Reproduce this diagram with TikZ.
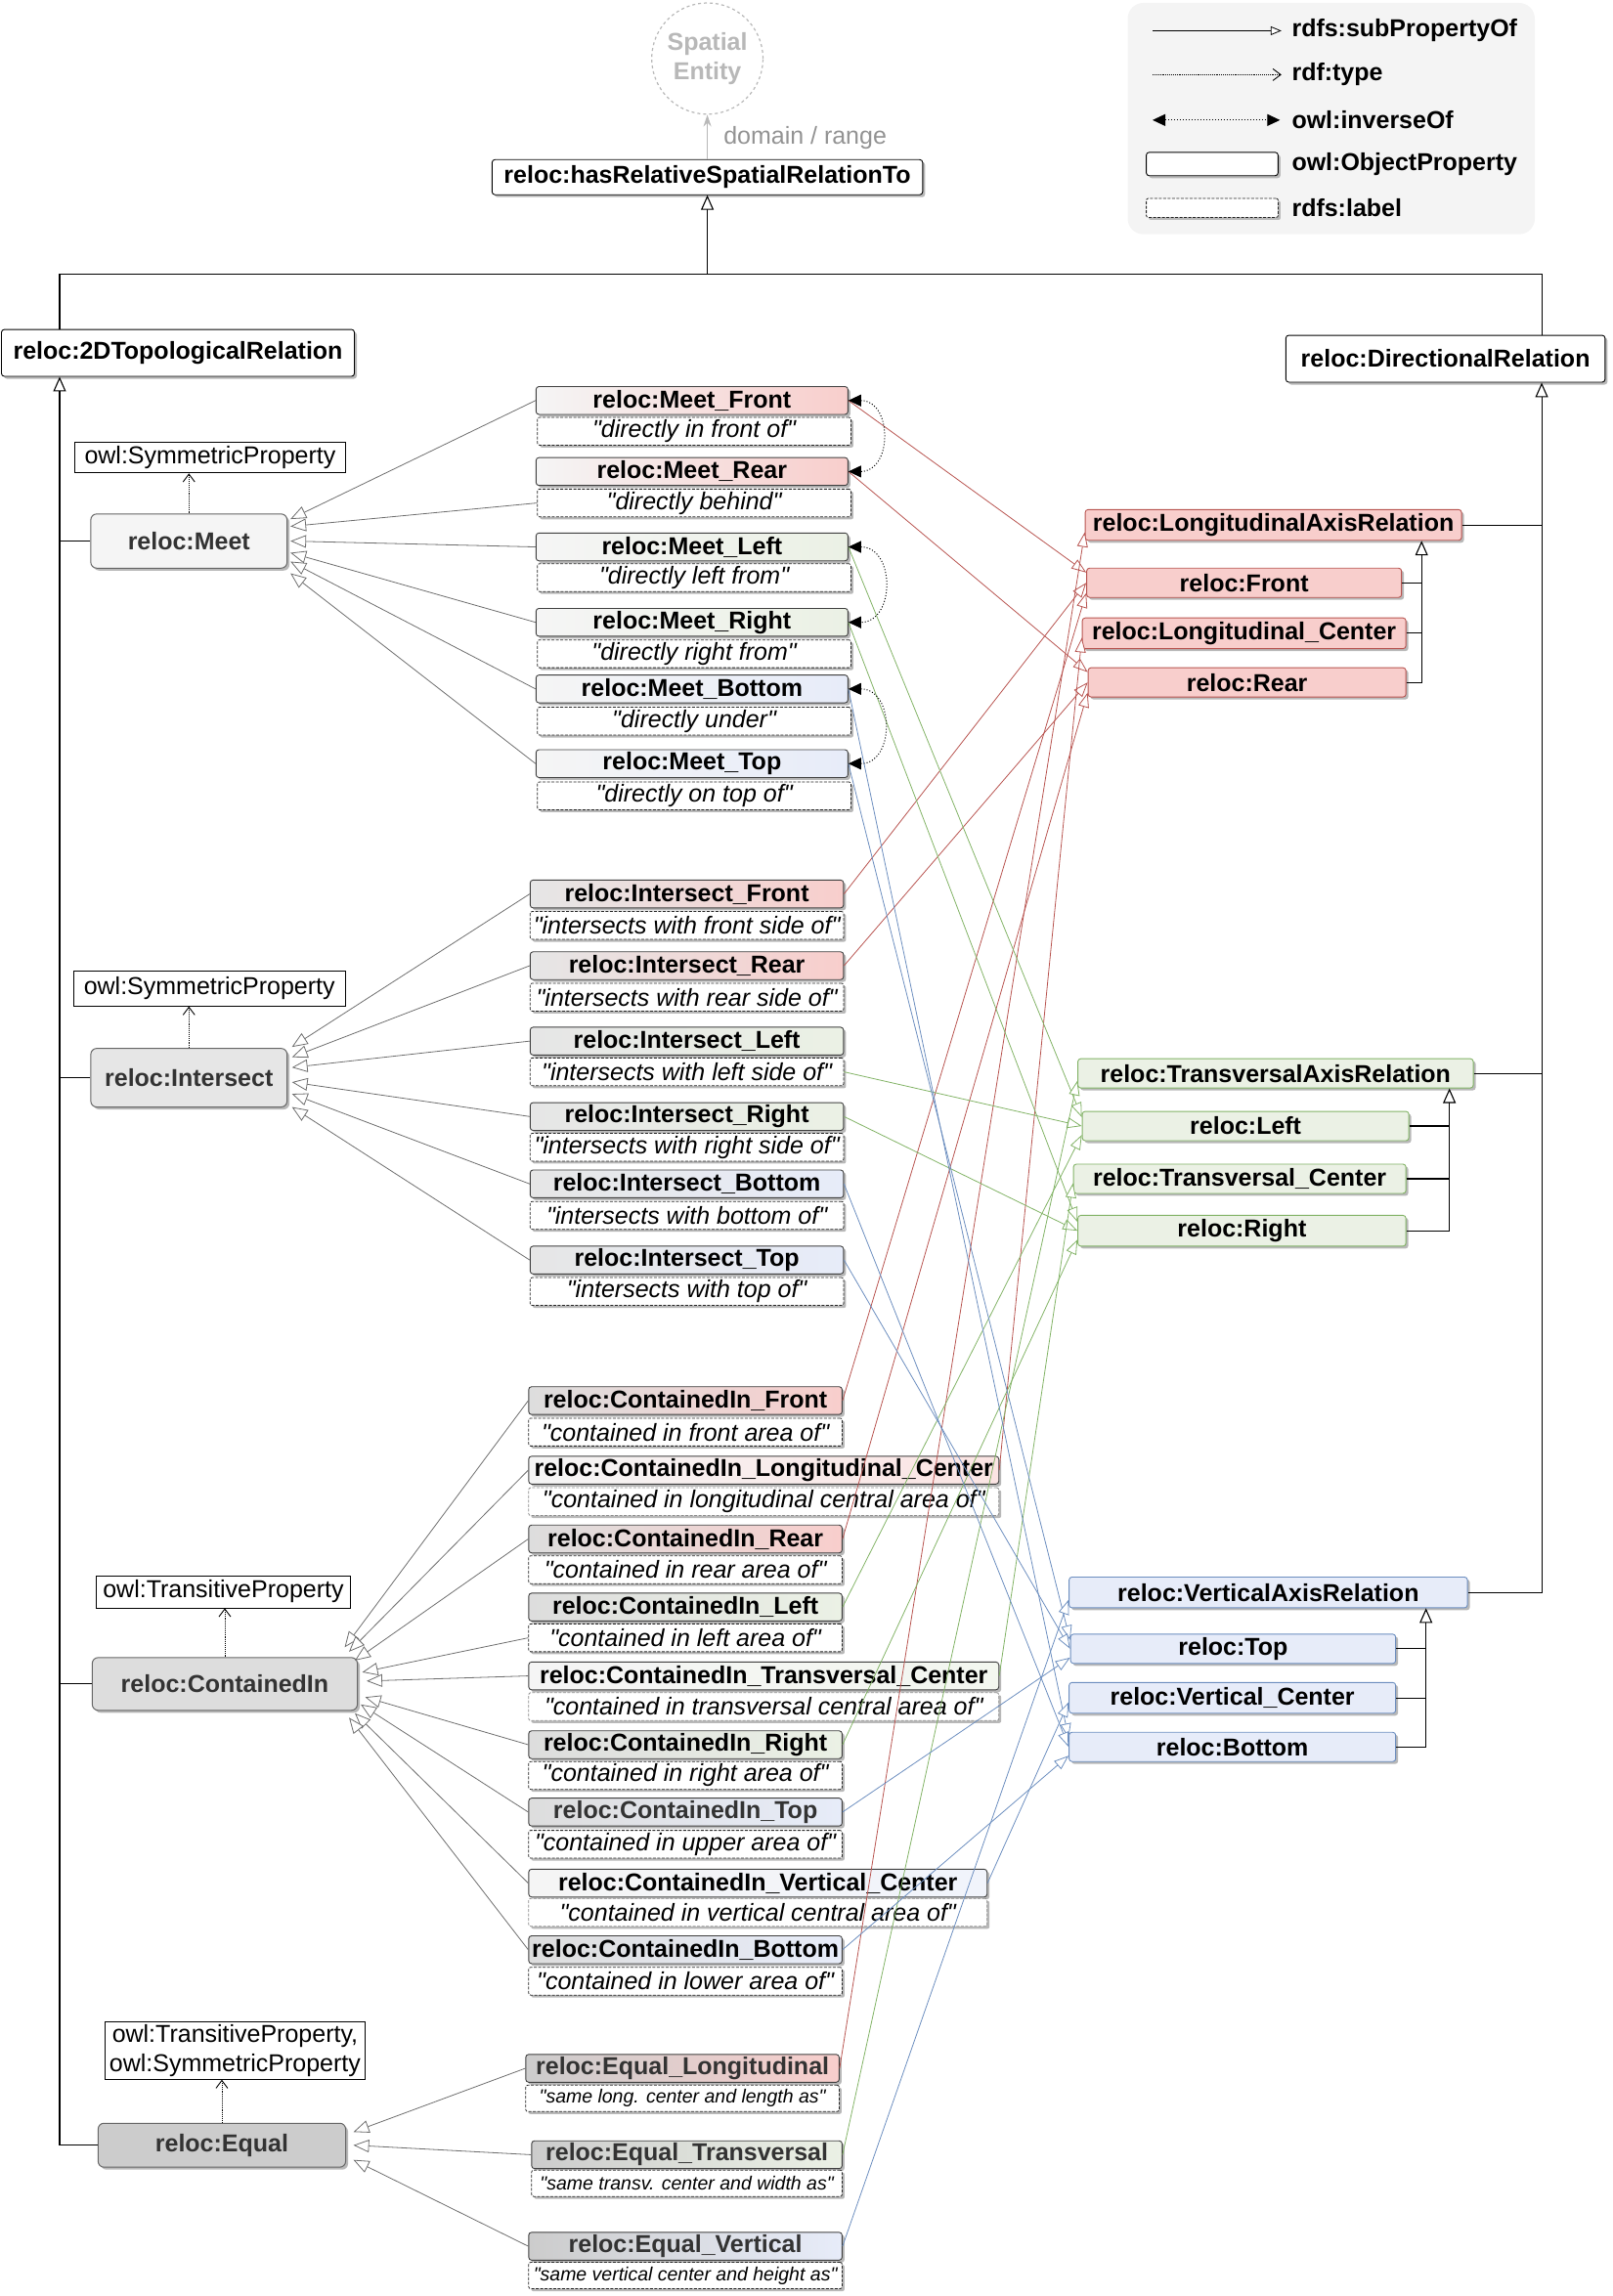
\documentclass[tikz,border=0pt]{standalone}
\usepackage{fontspec}
\setmainfont{Liberation Sans}
\usepackage{tikz}
\usetikzlibrary{positioning,calc,arrows.meta,shadows}
\definecolor{relocRed}{HTML}{F8CECC}
\definecolor{relocRedLine}{HTML}{B85450}
\definecolor{relocGreen}{HTML}{EBF1E5}
\definecolor{relocGreenLine}{HTML}{82B366}
\definecolor{relocBlue}{HTML}{E7ECF9}
\definecolor{relocBlueLine}{HTML}{6C8EBF}
\definecolor{relocInk}{HTML}{333333}
\definecolor{relocEdge}{HTML}{6E6E6E}
\definecolor{relocMuted}{HTML}{B8B8B8}
\definecolor{relocKey}{HTML}{F4F4F4}
\definecolor{relocMeet}{HTML}{F5F5F5}
\definecolor{relocInt}{HTML}{E6E6E6}
\definecolor{relocCon}{HTML}{DDDDDD}
\definecolor{relocEq}{HTML}{CCCCCC}
\newcommand\relocname{\fontsize{25}{30}\selectfont\bfseries}
\newcommand\reloclabel{\fontsize{25}{30}\selectfont\itshape}
\newcommand\reloclabelsm{\fontsize{19.5}{24}\selectfont\itshape}
\newcommand\reloctype{\fontsize{25}{30}\selectfont}
\newcommand\qq[1]{\textquotedbl#1\textquotedbl}

\begin{document}
\begin{tikzpicture}[x=1.49864pt, y=-1.49864pt,
  boxw/.style={minimum width=#1*1.49864pt},
  boxh/.style={minimum height=#1*1.49864pt},
  softshadow/.style={drop shadow={shadow xshift=2.5pt, shadow yshift=-2.5pt, fill=black!28, opacity=1}},
  relbox/.style={draw=black, fill=white, rounded corners=3pt, line width=0.9pt, font=\relocname, inner sep=0pt, softshadow},
  parentbox/.style={draw=black!60, rounded corners=6pt, line width=1pt, font=\relocname, text=relocInk, inner sep=0pt, softshadow},
  typebox/.style={draw=black, line width=0.8pt, font=\reloctype, inner sep=0pt, align=center},
  spatial/.style={circle, draw=relocMuted, dashed, line width=1.2pt, fill=white, minimum size=76*1.49864pt, font=\relocname, text=relocMuted, align=center, inner sep=0pt},
  propbox/.style={draw=black!75, rounded corners=3pt, line width=0.9pt, font=\relocname, inner sep=0pt, boxh=19, softshadow},
  meetprop/.style={propbox, boxw=213, left color=relocMeet},
  intprop/.style={propbox, boxw=214, left color=relocInt},
  conprop/.style={propbox, boxw=214, left color=relocCon},
  eqprop/.style={propbox, boxw=214, left color=relocEq, text=relocInk},
  lblbox/.style={draw=black!85, dash pattern=on 3pt off 1.5pt, line width=0.8pt, rounded corners=2pt, fill=white, font=\reloclabel, inner sep=0pt, boxh=19, boxw=214, softshadow},
  axisbox/.style={rounded corners=3pt, line width=0.9pt, font=\relocname, inner sep=0pt, boxh=20, softshadow},
  redaxis/.style={axisbox, draw=relocRedLine, fill=relocRed},
  greenaxis/.style={axisbox, draw=relocGreenLine, fill=relocGreen},
  blueaxis/.style={axisbox, draw=relocBlueLine, fill=relocBlue},
  keytext/.style={font=\relocname, anchor=west, inner sep=0pt},
  isa/.style={draw=relocEdge, line width=0.8pt, -{Triangle[fill=white, length=16pt, width=13pt]}},
  subred/.style={draw=relocRedLine, line width=0.8pt, -{Triangle[fill=white, length=15pt, width=11pt]}},
  subgreen/.style={draw=relocGreenLine, line width=0.8pt, -{Triangle[fill=white, length=15pt, width=11pt]}},
  subblue/.style={draw=relocBlueLine, line width=0.8pt, -{Triangle[fill=white, length=15pt, width=11pt]}},
  tree/.style={line width=1.1pt, -{Triangle[fill=white, length=15pt, width=13pt]}},
  treeline/.style={line width=1.1pt},
  typeof/.style={densely dotted, line width=0.9pt, -{Straight Barb[length=8pt, width=12pt]}},
  inv/.style={dotted, line width=1pt, {Triangle[length=13pt, width=12pt]}-{Triangle[length=13pt, width=12pt]}}]
\useasboundingbox (0,0) rectangle (1101,1568);

% legend
\node[fill=relocKey, rounded corners=16pt, boxw=278, boxh=158] (key) at (909,81) {};
\node[keytext] (ksub) at (882,21) {rdfs:subPropertyOf};
\node[keytext] (ktype) at (882,51) {rdf:type};
\node[keytext] (kinv) at (882,82) {owl:inverseOf};
\node[keytext] (kobj) at (882,112) {owl:ObjectProperty};
\node[keytext] (klbl) at (882,142) {rdfs:label};
\draw[line width=0.8pt, -{Triangle[fill=white, length=11pt, width=9pt]}] ($(ksub.west)+(-95,0)$) -- ($(ksub.west)+(-7,0)$);
\draw[typeof] ($(ktype.west)+(-95,0)$) -- ($(ktype.west)+(-7,0)$);
\draw[inv] ($(kinv.west)+(-95,0)$) -- ($(kinv.west)+(-8,0)$);
\node[relbox, boxw=90, boxh=16, anchor=east] (kobjbox) at ($(kobj.west)+(-9,0)$) {};
\node[lblbox, boxw=90, boxh=13, anchor=east] (klblbox) at ($(klbl.west)+(-9,0)$) {};

% top of the hierarchy
\node[spatial] (spatial) at (483,40) {Spatial\\Entity};
\node[relbox, boxw=294, boxh=24] (hasrel) at (483,121) {reloc:hasRelativeSpatialRelationTo};
\node[font=\reloctype, text=relocMuted!80!black, anchor=west, inner sep=0pt] (domlbl) at (494,94) {domain / range};
\node[relbox, boxw=241, boxh=32] (topo) at (121.5,241) {reloc:2DTopologicalRelation};
\node[relbox, boxw=218, boxh=32] (dir) at (987,245) {reloc:DirectionalRelation};

% topological super properties
\node[typebox, boxw=185, boxh=21] (symmA) at (143.5,312.5) {owl:SymmetricProperty};
\node[parentbox, fill=relocMeet, boxw=134, boxh=37] (meet) at (129,369.5) {reloc:Meet};
\node[typebox, boxw=186, boxh=24] (symmB) at (143,675) {owl:SymmetricProperty};
\node[parentbox, fill=relocInt, boxw=134, boxh=40] (inter) at (129,736) {reloc:Intersect};
\node[typebox, boxw=173, boxh=22] (transA) at (152.5,1087) {owl:TransitiveProperty};
\node[parentbox, fill=relocCon, boxw=181, boxh=36] (cont) at (153.5,1150) {reloc:ContainedIn};
\node[typebox, boxw=177, boxh=39] (transB) at (160.5,1400.5) {owl:TransitiveProperty,\\owl:SymmetricProperty};
\node[parentbox, fill=relocEq, boxw=169, boxh=30] (equal) at (151.5,1465) {reloc:Equal};

% meet
\node[meetprop, right color=relocRed] (mfront) at (472.5,273.5) {reloc:Meet\_Front};
\node[lblbox] (mfrontl) at (474,294.5) {\qq{directly in front of}};
\node[meetprop, right color=relocRed] (mrear) at (472.5,322) {reloc:Meet\_Rear};
\node[lblbox] (mrearl) at (474,343.5) {\qq{directly behind}};
\node[meetprop, right color=relocGreen] (mleft) at (472.5,373.5) {reloc:Meet\_Left};
\node[lblbox] (mleftl) at (474,394.5) {\qq{directly left from}};
\node[meetprop, right color=relocGreen] (mright) at (472.5,425) {reloc:Meet\_Right};
\node[lblbox] (mrightl) at (474,446.5) {\qq{directly right from}};
\node[meetprop, right color=relocBlue] (mbottom) at (472.5,470.5) {reloc:Meet\_Bottom};
\node[lblbox] (mbottoml) at (474,492.5) {\qq{directly under}};
\node[meetprop, right color=relocBlue] (mtop) at (472.5,521.5) {reloc:Meet\_Top};
\node[lblbox] (mtopl) at (474,543.5) {\qq{directly on top of}};

% intersect
\node[intprop, right color=relocRed] (ifront) at (469,610.5) {reloc:Intersect\_Front};
\node[lblbox] (ifrontl) at (469,632) {\qq{intersects with front side of}};
\node[intprop, right color=relocRed] (irear) at (469,659.5) {reloc:Intersect\_Rear};
\node[lblbox] (irearl) at (469,681) {\qq{intersects with rear side of}};
\node[intprop, right color=relocGreen] (ileft) at (469,711) {reloc:Intersect\_Left};
\node[lblbox] (ileftl) at (469,732) {\qq{intersects with left side of}};
\node[intprop, right color=relocGreen] (iright) at (469,762.5) {reloc:Intersect\_Right};
\node[lblbox] (irightl) at (469,783.5) {\qq{intersects with right side of}};
\node[intprop, right color=relocBlue] (ibottom) at (469,808.5) {reloc:Intersect\_Bottom};
\node[lblbox] (ibottoml) at (469,830) {\qq{intersects with bottom of}};
\node[intprop, right color=relocBlue] (itop) at (469,860.5) {reloc:Intersect\_Top};
\node[lblbox] (itopl) at (469,882) {\qq{intersects with top of}};

% contained in
\node[conprop, right color=relocRed] (cfront) at (468,956.5) {reloc:ContainedIn\_Front};
\node[lblbox] (cfrontl) at (468,978) {\qq{contained in front area of}};
\node[conprop, boxw=321, left color=relocMeet, right color=relocRed!55] (clong) at (521.5,1004) {reloc:ContainedIn\_Longitudinal\_Center};
\node[lblbox, boxw=321, draw=black!45] (clongl) at (521.5,1025.5) {\qq{contained in longitudinal central area of}};
\node[conprop, right color=relocRed] (crear) at (468,1051) {reloc:ContainedIn\_Rear};
\node[lblbox] (crearl) at (468,1072) {\qq{contained in rear area of}};
\node[conprop, right color=relocGreen] (cleft) at (468,1097.5) {reloc:ContainedIn\_Left};
\node[lblbox] (cleftl) at (468,1118.5) {\qq{contained in left area of}};
\node[conprop, boxw=321, left color=relocMeet, right color=relocGreen!60] (ctrans) at (521.5,1144.5) {reloc:ContainedIn\_Transversal\_Center};
\node[lblbox, boxw=321, draw=black!45] (ctransl) at (521.5,1165.5) {\qq{contained in transversal central area of}};
\node[conprop, right color=relocGreen] (cright) at (468,1191.5) {reloc:ContainedIn\_Right};
\node[lblbox] (crightl) at (468,1212.5) {\qq{contained in right area of}};
\node[conprop, right color=relocBlue, text=relocInk] (ctop) at (468,1237.5) {reloc:ContainedIn\_Top};
\node[lblbox] (ctopl) at (468,1259.5) {\qq{contained in upper area of}};
\node[conprop, boxw=313, left color=relocMeet, right color=relocBlue!60] (cvert) at (517.5,1286) {reloc:ContainedIn\_Vertical\_Center};
\node[lblbox, boxw=313, draw=black!45] (cvertl) at (517.5,1306) {\qq{contained in vertical central area of}};
\node[conprop, right color=relocBlue] (cbottom) at (468,1331.5) {reloc:ContainedIn\_Bottom};
\node[lblbox] (cbottoml) at (468,1353) {\qq{contained in lower area of}};

% equal
\node[eqprop, right color=relocRed] (elong) at (466,1412.5) {reloc:Equal\_Longitudinal};
\node[lblbox, boxh=18, font=\reloclabelsm] (elongl) at (466,1433) {\qq{same long. center and length as}};
\node[eqprop, boxw=212, right color=relocGreen] (etrans) at (469,1471.5) {reloc:Equal\_Transversal};
\node[lblbox, boxw=212, boxh=18, font=\reloclabelsm] (etransl) at (469,1491) {\qq{same transv. center and width as}};
\node[eqprop, right color=relocBlue] (evert) at (468,1534) {reloc:Equal\_Vertical};
\node[lblbox, boxh=18, font=\reloclabelsm] (evertl) at (468,1554) {\qq{same vertical center and height as}};

% directional axes
\node[redaxis, boxw=257, boxh=21] (longax) at (869.5,358.5) {reloc:LongitudinalAxisRelation};
\node[redaxis, boxw=215] (rfront) at (849.5,398) {reloc:Front};
\node[redaxis, boxw=221, boxh=21] (longc) at (849.5,432.5) {reloc:Longitudinal\_Center};
\node[redaxis, boxw=217] (rrear) at (851.5,466) {reloc:Rear};
\node[greenaxis, boxw=270] (transax) at (871,733) {reloc:TransversalAxisRelation};
\node[greenaxis, boxw=223] (rleft) at (850.5,769) {reloc:Left};
\node[greenaxis, boxw=227] (transc) at (846.5,805) {reloc:Transversal\_Center};
\node[greenaxis, boxw=224, boxh=21] (rright) at (848,840.5) {reloc:Right};
\node[blueaxis, boxw=272, boxh=21] (vertax) at (866,1087.5) {reloc:VerticalAxisRelation};
\node[blueaxis, boxw=222] (rtop) at (842,1126) {reloc:Top};
\node[blueaxis, boxw=223, boxh=21] (vertc) at (841.5,1159.5) {reloc:Vertical\_Center};
\node[blueaxis, boxw=223] (rbottom) at (841.5,1193) {reloc:Bottom};

% hierarchy trunks
\coordinate (bus) at ($(hasrel.south)+(0,54)$);
\coordinate (topoin) at ($(topo.south west)+(40,0)$);
\coordinate (dirin) at ($(dir.south west)+(175,0)$);
\coordinate (longin) at ($(longax.south west)+(230,0)$);
\coordinate (transin) at ($(transax.south west)+(254,0)$);
\coordinate (vertin) at ($(vertax.south west)+(244,0)$);
\draw[tree] ($(topo.north west)+(40,0)$) |- (bus) -- (hasrel.south);
\draw[treeline] ($(dir.north west)+(175,0)$) |- (bus);
\draw[->, >={Stealth[length=12pt, width=8pt]}, draw=relocMuted, line width=1pt] (hasrel.north) -- (spatial.south);
\draw[tree] (equal.west) -| (topoin);
\foreach \n in {meet, inter, cont}
  \draw[treeline] (\n.west) -- (\n.west -| topoin);
\draw[tree] (vertax.east) -| (dirin);
\foreach \n in {longax, transax}
  \draw[treeline] (\n.east) -- (\n.east -| dirin);
\draw[tree] (rrear.east) -| (longin);
\foreach \n in {rfront, longc}
  \draw[treeline] (\n.east) -- (\n.east -| longin);
\draw[tree] (rright.east) -| (transin);
\foreach \n in {rleft, transc}
  \draw[treeline] (\n.east) -- (\n.east -| transin);
\draw[tree] (rbottom.east) -| (vertin);
\foreach \n in {rtop, vertc}
  \draw[treeline] (\n.east) -- (\n.east -| vertin);

% rdf:type
\draw[typeof] (meet.north) -- (meet.north |- symmA.south);
\draw[typeof] (inter.north) -- (inter.north |- symmB.south);
\draw[typeof] (cont.north) -- (cont.north |- transA.south);
\draw[typeof] (equal.north) -- (equal.north |- transB.south);

% subPropertyOf into the topological groups
\foreach \n/\d in {mfront/-15, mrearl/-10, mleft/0, mright/8, mbottom/14, mtop/22}
  \draw[isa] (\n.west) -- ($(meet.east)+(2,\d)$);
\foreach \n/\d in {ifront/-21, irear/-14, ileft/-7, iright/3, ibottom/11, itop/20}
  \draw[isa] (\n.west) -- ($(inter.east)+(3,\d)$);
\foreach \n/\x/\d in {cfront/-9/-25, clong/-6/-22, crear/-2/-16, cleftl/3/-8, ctrans/6/-2, cright/5/9, ctop/2/14, cvert/-2/20, cbottom/-6/23}
  \draw[isa] (\n.west) -- ($(cont.east)+(\x,\d)$);
\foreach \n/\d in {elong/-9, etrans/0, evert/10}
  \draw[isa] (\n.west) -- ($(equal.east)+(5,\d)$);

% subPropertyOf into the directional axes
\foreach \a/\b/\d in {mfront/rfront/-7, ifront/rfront/0, cfront/rfront/7, mrear/rrear/-7, irear/rrear/0, crear/rrear/7, clong/longc/3, elong/longax/5}
  \draw[subred] (\a.east) -- ($(\b.west)+(0,\d)$);
\foreach \a/\b/\d in {mleft/rleft/-6, ileftl/rleft/0, cleft/rleft/6, mright/rright/-6, iright/rright/0, cright/rright/6, ctrans/transc/3, etrans/transax/5}
  \draw[subgreen] (\a.east) -- ($(\b.west)+(0,\d)$);
\foreach \a/\b/\d in {mtop/rtop/-6, itop/rtop/0, ctop/rtop/6, mbottom/rbottom/-6, ibottom/rbottom/0, cbottom/rbottom/6, cvert/vertc/3, evert/vertax/5}
  \draw[subblue] (\a.east) -- ($(\b.west)+(0,\d)$);

% owl:inverseOf
\draw[inv] (mfront.east) to[out=0, in=0, looseness=1.6] (mrear.east);
\draw[inv] (mleft.east) to[out=0, in=0, looseness=1.6] (mright.east);
\draw[inv] (mbottom.east) to[out=0, in=0, looseness=1.6] (mtop.east);
\end{tikzpicture}
\end{document}
